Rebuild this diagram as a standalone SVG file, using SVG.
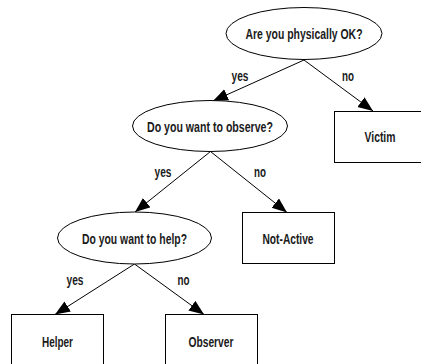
<svg xmlns="http://www.w3.org/2000/svg" width="421" height="364" viewBox="0 0 421 364">
  <style>
    .bg { fill: #ffffff; }
    .node-shape { fill: #ffffff; stroke: #000000; stroke-width: 1; }
    .edge { fill: none; stroke: #000000; stroke-width: 1; marker-end: url(#arrow); }
    .label { font-family: "Liberation Sans", Arial, sans-serif; font-size: 15.5px; font-weight: bold; fill: #1a1a1a; text-anchor: middle; }
  </style>
  <defs>
    <marker id="arrow" markerUnits="userSpaceOnUse" markerWidth="16" markerHeight="13" refX="15" refY="6" orient="auto" viewBox="0 0 16 13">
      <path d="M0,0 L15,6 L0,12 z" fill="#000000"/>
    </marker>
  </defs>
  <rect class="bg" x="0" y="0" width="421" height="364"/>

  <g id="connectors">
    <path class="edge" d="M304,60 L213,101"/>
    <path class="edge" d="M304,60 L373,111"/>
    <path class="edge" d="M210.5,151.5 L135,212"/>
    <path class="edge" d="M210.5,151.5 L287,212.5"/>
    <path class="edge" d="M134.5,264 L55,314.5"/>
    <path class="edge" d="M134.5,264 L204,314.5"/>
    <text class="label" x="240" y="81" textLength="17" lengthAdjust="spacingAndGlyphs">yes</text>
    <text class="label" x="348" y="81" textLength="12" lengthAdjust="spacingAndGlyphs">no</text>
    <text class="label" x="163" y="177" textLength="17" lengthAdjust="spacingAndGlyphs">yes</text>
    <text class="label" x="260" y="177" textLength="12" lengthAdjust="spacingAndGlyphs">no</text>
    <text class="label" x="75" y="285" textLength="17" lengthAdjust="spacingAndGlyphs">yes</text>
    <text class="label" x="183.5" y="285" textLength="12" lengthAdjust="spacingAndGlyphs">no</text>
  </g>

  <g id="q-physically-ok">
    <ellipse class="node-shape" cx="304" cy="33.5" rx="78" ry="26"/>
    <text class="label" x="304" y="39" textLength="117" lengthAdjust="spacingAndGlyphs">Are you physically OK?</text>
  </g>
  <g id="q-observe">
    <ellipse class="node-shape" cx="210" cy="126" rx="77.5" ry="25.5"/>
    <text class="label" x="210" y="132" textLength="126" lengthAdjust="spacingAndGlyphs">Do you want to observe?</text>
  </g>
  <g id="q-help">
    <ellipse class="node-shape" cx="134.5" cy="238" rx="77" ry="26"/>
    <text class="label" x="134.5" y="244" textLength="105" lengthAdjust="spacingAndGlyphs">Do you want to help?</text>
  </g>
  <g id="victim">
    <rect class="node-shape" x="334.5" y="111.5" width="92" height="51"/>
    <text class="label" x="380" y="142" textLength="31" lengthAdjust="spacingAndGlyphs">Victim</text>
  </g>
  <g id="not-active">
    <rect class="node-shape" x="242.5" y="212.5" width="92" height="51"/>
    <text class="label" x="288" y="244" textLength="51" lengthAdjust="spacingAndGlyphs">Not-Active</text>
  </g>
  <g id="helper">
    <rect class="node-shape" x="11.5" y="314.5" width="92" height="51"/>
    <text class="label" x="57.5" y="347" textLength="31" lengthAdjust="spacingAndGlyphs">Helper</text>
  </g>
  <g id="observer">
    <rect class="node-shape" x="165.5" y="314.5" width="92" height="51"/>
    <text class="label" x="211" y="347" textLength="45" lengthAdjust="spacingAndGlyphs">Observer</text>
  </g>
</svg>
